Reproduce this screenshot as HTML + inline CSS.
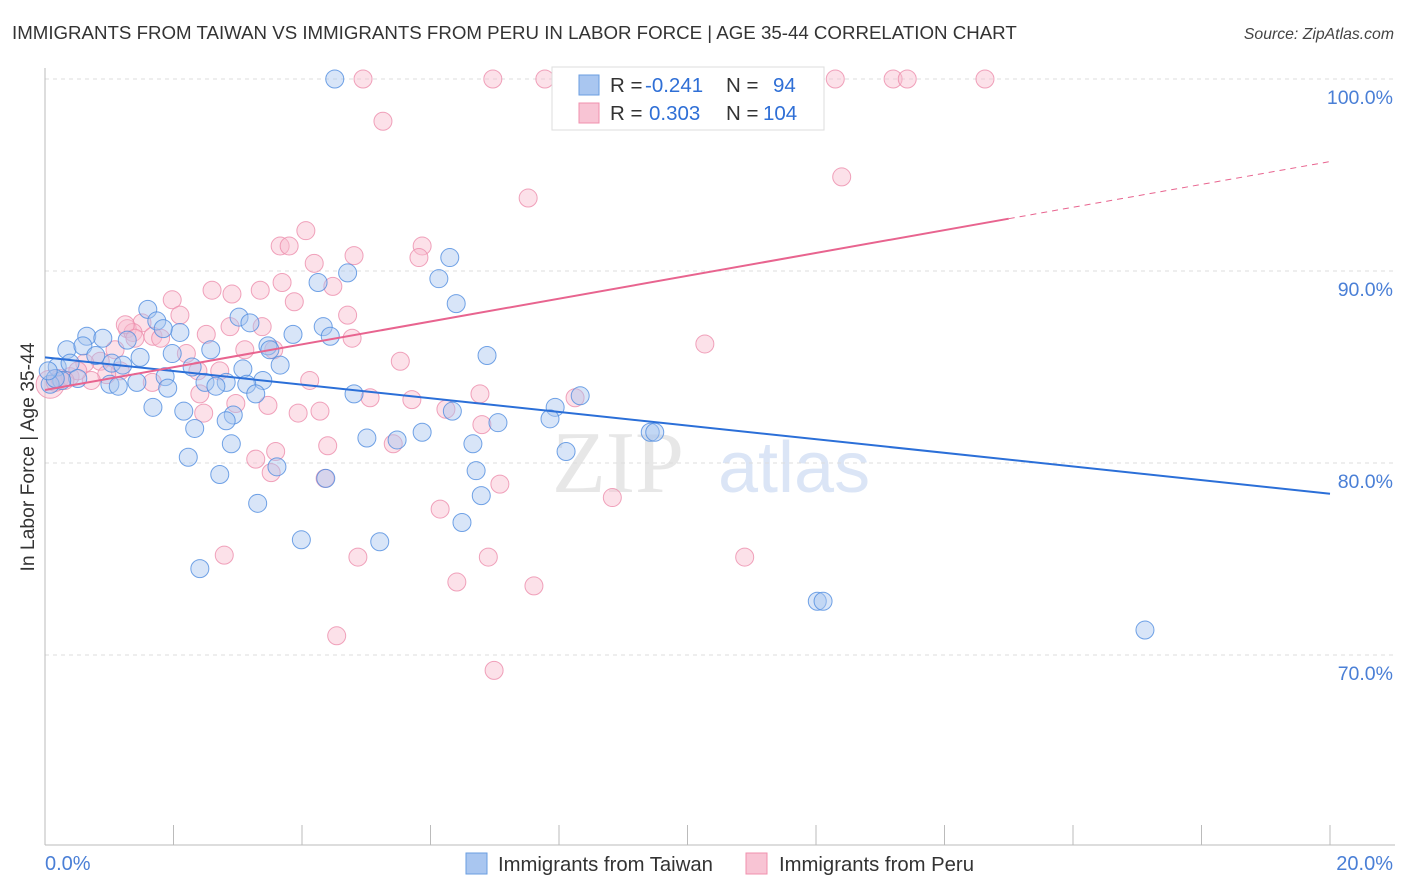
<!DOCTYPE html>
<html><head><meta charset="utf-8"><style>
body{margin:0;background:#fff;font-family:"Liberation Sans",sans-serif}
svg{display:block}
</style></head><body>
<svg id="chart" width="1406" height="892" xmlns="http://www.w3.org/2000/svg" font-family="Liberation Sans, sans-serif">
<text x="12" y="39" font-size="18.7" fill="#333">IMMIGRANTS FROM TAIWAN VS IMMIGRANTS FROM PERU IN LABOR FORCE | AGE 35-44 CORRELATION CHART</text>
<text x="1394" y="39" font-size="15.8" fill="#444" font-style="italic" text-anchor="end">Source: ZipAtlas.com</text>
<g>
<text x="552" y="492" font-size="88" font-family="Liberation Serif, serif" fill="#d8d8d8" opacity="0.6">ZIP</text>
<text x="718" y="492" font-size="72" fill="#b8cdee" opacity="0.5">atlas</text>
</g>
<g id="grid"></g>
<g id="axes"></g>
<g id="pts"></g>
<g id="trend"></g>
<text transform="translate(34,457) rotate(-90)" font-size="19.3" fill="#333" text-anchor="middle">In Labor Force | Age 35-44</text>
<g>
<rect x="552" y="67" width="272" height="63" fill="#fff" stroke="#ddd"/>
<rect x="579" y="75" width="20" height="20" fill="#a9c6f0" stroke="#6a9ee0"/>
<rect x="579" y="103" width="20" height="20" fill="#f8c4d4" stroke="#f090ae"/>
<text x="610" y="92" font-size="20.5" fill="#333">R = <tspan x="645" fill="#2f6fd6">-0.241</tspan><tspan x="726">N = </tspan><tspan x="773" fill="#2f6fd6">94</tspan></text>
<text x="610" y="120" font-size="20.5" fill="#333">R = <tspan x="649" fill="#2f6fd6">0.303</tspan><tspan x="726">N = </tspan><tspan x="763" fill="#2f6fd6">104</tspan></text>
</g>
<g>
<rect x="466" y="853" width="21" height="21" fill="#a9c6f0" stroke="#6a9ee0"/>
<text x="498" y="871" font-size="20.3" fill="#333">Immigrants from Taiwan</text>
<rect x="746" y="853" width="21" height="21" fill="#f8c4d4" stroke="#f090ae"/>
<text x="779" y="871" font-size="20.3" fill="#333">Immigrants from Peru</text>
</g>
</svg>
<script>
const yTicks=[70,80,90,100];
const yTickLabels=["70.0%","80.0%","90.0%","100.0%"];
const xTicks=[0,2,4,6,8,10,12,14,16,18,20];
const taiwanX=[4.51,11.75,6.30,6.13,4.71,4.25,6.40,1.60,1.74,2.10,1.84,3.02,3.19,3.86,4.33,4.44,6.88,0.65,0.90,0.34,0.59,1.28,2.58,3.47,3.50,1.98,1.48,0.79,1.04,1.21,0.19,0.39,3.66,2.29,3.08,1.87,0.51,0.26,2.49,2.82,3.39,2.66,1.01,1.43,1.14,1.91,3.14,3.28,4.81,8.33,1.68,2.16,2.93,2.82,6.34,7.94,7.86,7.05,2.33,5.87,9.42,9.49,5.01,5.48,2.90,6.66,8.11,2.23,3.61,6.71,2.72,4.37,6.79,3.31,6.49,3.99,5.21,2.41,12.02,12.11,17.12,0.08,0.16,0.05];
const taiwanY=[100,100,90.7,89.6,89.9,89.4,88.3,88.0,87.4,86.8,87.0,87.6,87.3,86.7,87.1,86.6,85.6,86.6,86.5,85.9,86.1,86.4,85.9,86.1,85.9,85.7,85.5,85.6,85.2,85.1,85.0,85.2,85.1,85.0,84.9,84.5,84.4,84.3,84.2,84.2,84.3,84.0,84.1,84.2,84.0,83.9,84.1,83.6,83.6,83.5,82.9,82.7,82.5,82.2,82.7,82.9,82.3,82.1,81.8,81.6,81.6,81.6,81.3,81.2,81.0,81.0,80.6,80.3,79.8,79.6,79.4,79.2,78.3,77.9,76.9,76.0,75.9,74.5,72.8,72.8,71.3,84.1,84.4,84.8];
const peruX=[4.95,6.97,7.78,9.49,12.30,13.20,13.42,14.63,5.26,12.40,7.52,4.06,3.66,3.80,5.87,5.82,4.81,4.19,4.48,3.69,3.35,2.60,2.91,3.88,1.98,4.71,2.10,1.51,1.28,1.37,1.68,1.80,2.88,3.38,2.51,4.78,10.27,3.11,3.56,2.20,0.86,0.62,5.53,2.38,2.72,1.17,0.96,0.72,4.12,1.67,2.41,6.77,5.71,8.25,5.06,3.47,2.97,3.94,4.28,6.24,6.80,2.47,4.40,5.42,3.59,3.28,3.52,4.36,7.08,8.83,6.15,2.79,6.90,10.89,4.87,6.41,7.61,4.54,6.99,0.08,0.16,0.23,0.39,0.51,0.31,1.09,1.25,1.40];
const peruY=[100,100,100,100,100,100,100,100,97.8,94.9,93.8,92.1,91.3,91.3,91.3,90.7,90.8,90.4,89.2,89.4,89.0,89.0,88.8,88.4,88.5,87.7,87.7,87.3,87.0,86.8,86.6,86.5,87.1,87.1,86.7,86.5,86.2,85.9,85.9,85.7,85.3,85.2,85.3,84.8,84.8,84.8,84.6,84.3,84.3,84.2,83.6,83.6,83.3,83.4,83.4,83.0,83.1,82.6,82.7,82.8,82.0,82.6,80.9,81.0,80.6,80.2,79.5,79.2,78.9,78.2,77.6,75.2,75.1,75.1,75.1,73.8,73.6,71.0,69.2,84.1,84.2,84.4,84.5,84.8,84.3,85.9,87.2,86.5];
const taiwanTrend=[85.5,78.4];
const peruTrend=[83.8,95.7];
const peruSolidEnd=15.0;

const NS="http://www.w3.org/2000/svg";
const X0=45,X1=1330,Y100=79,PXPER=19.2;
const sx=v=>X0+v/20*(X1-X0);
const sy=v=>Y100+(100-v)*PXPER;
function mk(tag,attrs,parent){const e=document.createElementNS(NS,tag);for(const k in attrs)e.setAttribute(k,attrs[k]);parent.appendChild(e);return e;}
const grid=document.getElementById('grid'),axes=document.getElementById('axes'),pts=document.getElementById('pts'),trend=document.getElementById('trend');
yTicks.forEach((t,i)=>{
  const l=mk('line',{x1:45,x2:1395,y1:sy(t),y2:sy(t),stroke:'#ddd','stroke-dasharray':'4,4'},grid);
  
  
  const tx=mk('text',{x:1393,y:sy(t)+25,'font-size':19.5,fill:'#4a7fd6','text-anchor':'end'},grid);
  tx.textContent=yTickLabels[i];
  
  
});
const ya=mk('line',{x1:45,x2:45,y1:68,y2:845,stroke:'#bbb'},axes);


const xa=mk('line',{x1:45,x2:1395,y1:845,y2:845,stroke:'#bbb'},axes);


xTicks.forEach(t=>{
  const l=mk('line',{x1:sx(t),x2:sx(t),y1:825,y2:845,stroke:'#bbb'},axes);
  
  
});
const xl0=mk('text',{x:45,y:870,'font-size':20,fill:'#4a7fd6'},axes);xl0.textContent='0.0%';


const xl1=mk('text',{x:1393,y:870,'font-size':20,fill:'#4a7fd6','text-anchor':'end'},axes);xl1.textContent='20.0%';


function drawPts(X,Y,fill,stroke,name,big){
  X.forEach((x,i)=>{
    const r=(big&&i===X.length-9)?14:9;
    const c=mk('circle',{cx:sx(x),cy:sy(Y[i]),r:r,fill:fill,'fill-opacity':0.45,stroke:stroke,'stroke-opacity':0.8,'stroke-width':1},pts);
    
    
  });
}
drawPts(peruX,peruY,'#f8bccf','#ec8cab','point-peru',true);
drawPts(taiwanX,taiwanY,'#a9c6f0','#4f8ce0','point-taiwan',false);
const tb=mk('line',{x1:sx(0),y1:sy(taiwanTrend[0]),x2:sx(20),y2:sy(taiwanTrend[1]),stroke:'#2b6fd8','stroke-width':2},trend);


const pAt=x=>peruTrend[0]+(peruTrend[1]-peruTrend[0])*x/20;
const tp=mk('line',{x1:sx(0),y1:sy(pAt(0)),x2:sx(peruSolidEnd),y2:sy(pAt(peruSolidEnd)),stroke:'#e8648f','stroke-width':2},trend);


const tpd=mk('line',{x1:sx(peruSolidEnd),y1:sy(pAt(peruSolidEnd)),x2:sx(20),y2:sy(pAt(20)),stroke:'#e8648f','stroke-width':1,'stroke-dasharray':'6,5'},trend);


</script>
</body></html>
